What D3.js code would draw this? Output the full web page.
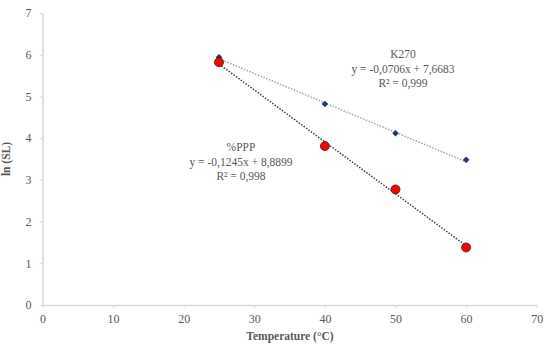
<!DOCTYPE html>
<meta charset="utf-8">
<style>
body { margin: 0; background: #fff; }
text { font-family: "Liberation Serif", "DejaVu Serif", serif; fill: #595959; }
.axis path, .axis line { stroke: #d9d9d9; }
.axis text { font-size: 11px; fill: #595959; }
</style>
<svg width="550" height="347"></svg>
<script src="https://d3js.org/d3.v7.min.js"></script>
<script>

var temps = [25, 40, 50, 60];
var k270 = [5.94, 4.82, 4.12, 3.48];
var ppp = [5.82, 3.81, 2.77, 1.38];
var xTicks = [0, 10, 20, 30, 40, 50, 60, 70];
var yTicks = [0, 1, 2, 3, 4, 5, 6, 7];
var k270Fit = {slope: -0.0706, icpt: 7.6683};
var pppFit = {slope: -0.1245, icpt: 8.8899};
var k270Label = ["K270", "y = -0,0706x + 7,6683", "R² = 0,999"];
var pppLabel = ["%PPP", "y = -0,1245x + 8,8899", "R² = 0,998"];

var svg = d3.select("svg");

var x = d3.scaleLinear().domain([0, 70]).range([42.5, 536.7]),
    y = d3.scaleLinear().domain([0, 7]).range([305, 13]);

svg.append("g")
    .attr("class", "axis")
    .attr("transform", "translate(0," + y(0) + ")")
    .call(d3.axisBottom(x).tickValues(xTicks).tickFormat(d3.format("d")).tickSize(3).tickSizeOuter(0).tickPadding(6))
    .call(function(g) { g.select(".domain").attr("stroke-width", 1.5); });

svg.append("g")
    .attr("class", "axis")
    .attr("transform", "translate(" + x(0) + ",0)")
    .call(d3.axisLeft(y).tickValues(yTicks).tickFormat(d3.format("d")).tickSize(3).tickSizeOuter(0).tickPadding(8))
    .call(function(g) { g.select(".domain").attr("stroke-width", 1.5); });

svg.selectAll(".axis text").style("font-size", "12px");

svg.append("text")
    .attr("x", 290).attr("y", 340)
    .attr("text-anchor", "middle")
    .style("font-size", "11.5px").style("font-weight", "bold")
    .text("Temperature (°C)");

svg.append("text")
    .attr("transform", "translate(10,159) rotate(-90)")
    .attr("text-anchor", "middle")
    .style("font-size", "11.5px").style("font-weight", "bold")
    .text("ln (SL)");

// trendlines
function trend(fit, color) {
  var x0 = d3.min(temps), x1 = d3.max(temps);
  svg.append("line")
      .attr("x1", x(x0)).attr("y1", y(fit.slope * x0 + fit.icpt))
      .attr("x2", x(x1)).attr("y2", y(fit.slope * x1 + fit.icpt))
      .attr("stroke", color)
      .attr("stroke-width", 1.5)
      .attr("stroke-dasharray", "1.5,1.5");
}
trend(k270Fit, "#a6a6a6");
trend(pppFit, "#404040");

var diamond = d3.symbol().type(d3.symbolSquare).size(18);
svg.selectAll(".k")
  .data(temps)
  .enter().append("path")
    .attr("class", "k")
    .attr("d", diamond)
    .attr("transform", function(d, i) { return "translate(" + x(d) + "," + y(k270[i]) + ") rotate(45)"; })
    .attr("fill", "#1f3864")
    .attr("stroke", "#1f3864")
    .attr("stroke-width", 0.5);

svg.selectAll(".p")
  .data(temps)
  .enter().append("circle")
    .attr("class", "p")
    .attr("cx", function(d) { return x(d); })
    .attr("cy", function(d, i) { return y(ppp[i]); })
    .attr("r", 4.5)
    .attr("fill", "#ff0000")
    .attr("stroke", "#262626")
    .attr("stroke-width", 0.8);

function label(lines, cx, cy) {
  svg.append("g").selectAll("text")
    .data(lines)
    .enter().append("text")
      .attr("x", cx)
      .attr("y", function(d, i) { return cy + i * 14.5; })
      .attr("text-anchor", "middle")
      .style("font-size", "11.5px")
      .text(function(d) { return d; });
}
label(k270Label, 403, 58);
label(pppLabel, 241, 151);

</script>
